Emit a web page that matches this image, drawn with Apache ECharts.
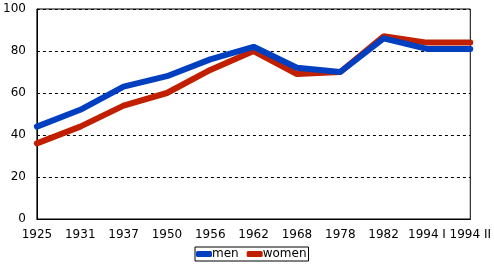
<!DOCTYPE html>
<html><head><meta charset="utf-8">
<script src="https://cdn.jsdelivr.net/npm/echarts@6/dist/echarts.min.js"></script>
<style>html,body{margin:0;padding:0;background:#fff}#c{width:494px;height:267px}</style>
</head><body><div id="c"></div>
<script>
var categories = ['1925','1931','1937','1950','1956','1962','1968','1978','1982','1994 I','1994 II'];
var men = [44, 52, 63, 68, 76, 82, 72, 70, 86, 81, 81];
var women = [36, 44, 54, 60, 71, 80, 69, 70, 87, 84, 84];
var yTicks = [0, 20, 40, 60, 80, 100];

var chart = echarts.init(document.getElementById('c'), null, {renderer: 'canvas'});
chart.setOption({
  animation: false,
  textStyle: {fontFamily: 'DejaVu Sans'},
  grid: {left: 34, right: 23, top: 9, bottom: 48, show: true, borderColor: '#000', borderWidth: 1, backgroundColor: 'transparent'},
  legend: {
    data: ['men', 'women'], bottom: 6, left: 195,
    borderColor: '#000', borderWidth: 1, padding: [1, 2, 1, 1],
    itemGap: 8, itemWidth: 16, itemHeight: 6, icon: 'roundRect',
    textStyle: {fontFamily: 'DejaVu Sans', fontSize: 12, color: '#000', padding: [0,0,0,-5]}
  },
  xAxis: {
    type: 'category', data: categories, boundaryGap: false,
    axisLine: {lineStyle: {color: '#000', width: 1}},
    axisTick: {show: false},
    axisLabel: {color: '#000', fontSize: 12, margin: 10, interval: 0}
  },
  yAxis: {
    type: 'value', min: yTicks[0], max: yTicks[yTicks.length - 1], interval: 20,
    axisLine: {show: true, lineStyle: {color: '#000', width: 1}},
    axisTick: {show: false},
    axisLabel: {color: '#000', fontSize: 12, margin: 11},
    splitLine: {lineStyle: {color: '#000', type: [3, 3], width: 1}}
  },
  series: [
    {name: 'women', type: 'line', data: women, symbol: 'none', lineStyle: {color: '#C02000', width: 6, cap: 'round'}, itemStyle: {color: '#C02000'}},
    {name: 'men', type: 'line', data: men, symbol: 'none', lineStyle: {color: '#0040C0', width: 6, cap: 'round'}, itemStyle: {color: '#0040C0'}}
  ]
});
</script></body></html>
